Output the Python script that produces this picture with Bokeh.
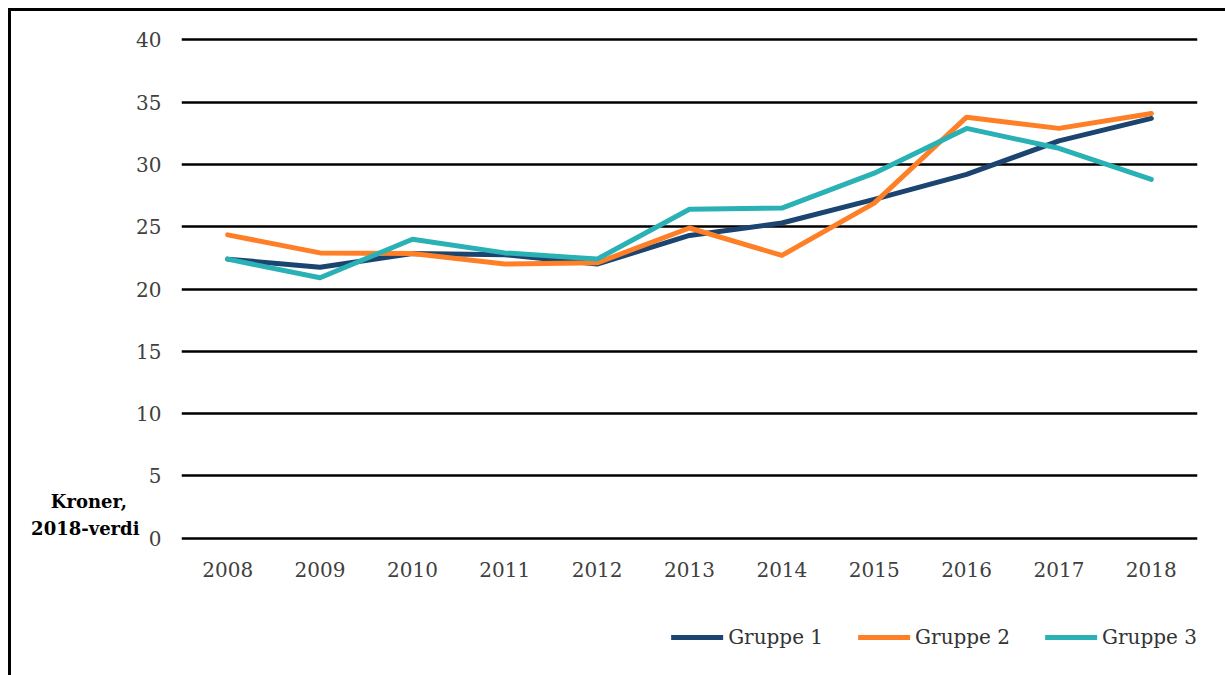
from bokeh.plotting import figure
from bokeh.layouts import column
from bokeh.models import Legend, LegendItem, Range1d, FactorRange, LinearAxis, FixedTicker
from bokeh.embed import file_html
from bokeh.resources import INLINE

years = ["2008", "2009", "2010", "2011", "2012", "2013", "2014", "2015", "2016", "2017", "2018"]
gruppe1 = [22.4, 21.75, 22.85, 22.75, 22.0, 24.3, 25.3, 27.2, 29.2, 31.9, 33.7]
gruppe2 = [24.35, 22.9, 22.85, 22.0, 22.1, 24.9, 22.7, 26.9, 33.8, 32.9, 34.1]
gruppe3 = [22.4, 20.9, 24.0, 22.9, 22.4, 26.4, 26.5, 29.3, 32.9, 31.3, 28.8]
y_ticks = [0, 5, 10, 15, 20, 25, 30, 35, 40]
series_names = ["Gruppe 1", "Gruppe 2", "Gruppe 3"]
colors = ["#1B4470", "#FF7F27", "#2AB1B5"]
y_title_lines = ["Kroner,\u00a0\u00a0", "2018-verdi"]
y_title_pos = [2.9, 0.8]

FONT = "DejaVu Serif"
series = [gruppe1, gruppe2, gruppe3]

p = figure(
    width=1214, height=600,
    x_range=FactorRange(*years, range_padding=0),
    y_range=Range1d(-0.2, 40.2),
    output_backend="svg", toolbar_location=None,
    min_border_left=170, min_border_right=28,
    min_border_top=26, min_border_bottom=71,
)
p.outline_line_color = None
p.background_fill_color = "white"
p.border_fill_color = "white"

p.yaxis.ticker = y_ticks
for ax in (p.xaxis, p.yaxis):
    ax.axis_line_color = None
    ax.major_tick_line_color = None
    ax.minor_tick_line_color = None
    ax.major_tick_out = 0
    ax.major_tick_in = 0
    ax.minor_tick_out = 0
    ax.major_label_text_font = FONT
    ax.major_label_text_font_size = "20px"
    ax.major_label_text_color = "#404040"
p.yaxis.major_label_standoff = 20
p.xaxis.major_label_standoff = 21

p.xgrid.grid_line_color = None
p.ygrid.grid_line_color = "black"
p.ygrid.grid_line_width = 2.5

# y-axis title drawn as labels of an extra left axis (horizontal, bottom-left)
title_axis = LinearAxis(
    ticker=FixedTicker(ticks=y_title_pos),
    major_label_overrides={v: t for v, t in zip(y_title_pos, y_title_lines)},
    axis_line_color=None, major_tick_line_color=None, minor_tick_line_color=None,
    major_tick_out=0, major_tick_in=0, minor_tick_out=0, major_label_standoff=-6,
    major_label_text_font=FONT, major_label_text_font_size="18px",
    major_label_text_font_style="bold", major_label_text_color="black",
)
p.add_layout(title_axis, "left")

for name, vals, col in zip(series_names, series, colors):
    p.line(years, vals, line_color=col, line_width=5,
           line_cap="round", line_join="round")

# legend strip below the chart (same series, drawn out of view; only the legend shows)
leg = figure(
    width=1214, height=64,
    x_range=FactorRange(*years, range_padding=0), y_range=Range1d(100, 101),
    output_backend="svg", toolbar_location=None,
    x_axis_location=None, y_axis_location=None,
    min_border_left=170, min_border_right=28, min_border_top=14, min_border_bottom=0,
)
leg.outline_line_color = None
leg.grid.visible = False
items = []
for name, vals, col in zip(series_names, series, colors):
    r = leg.line(years, vals, line_color=col, line_width=5, line_cap="round")
    items.append(LegendItem(label=name, renderers=[r]))
legend = Legend(items=items, orientation="horizontal",
                location="top_right",
                glyph_width=52, glyph_height=20, label_standoff=5, spacing=35,
                label_text_font=FONT, label_text_font_size="20px",
                label_text_color="#333333",
                background_fill_alpha=0, border_line_color=None,
                padding=0, margin=0)
leg.add_layout(legend, "center")

layout = column(p, leg, spacing=0,
                styles={"border-left": "3px solid black", "border-top": "3px solid black",
                        "margin-left": "8px", "margin-top": "8px"})

open("out.html", "w").write(file_html(layout, INLINE))
